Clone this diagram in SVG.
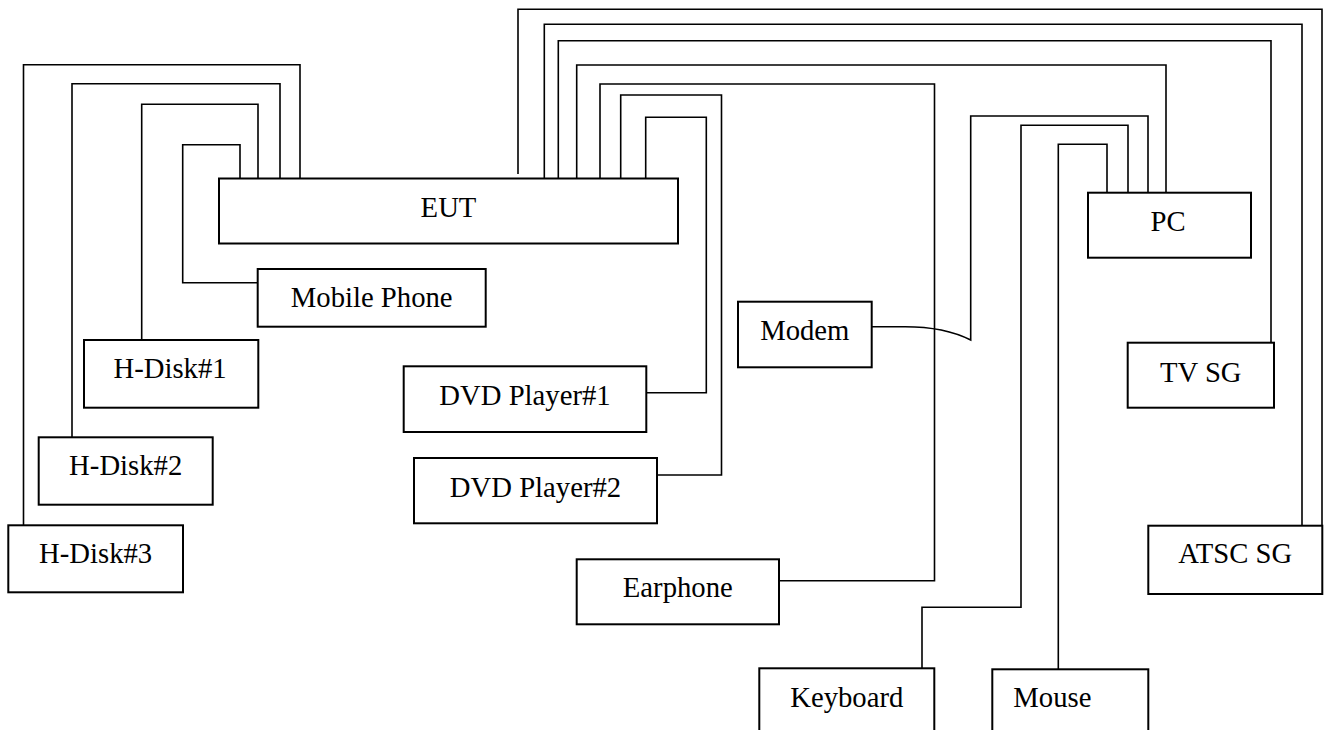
<svg xmlns="http://www.w3.org/2000/svg" width="1328" height="730" viewBox="0 0 1328 730">
<style>
.box{fill:#fff;stroke:#000;stroke-width:2}
.lbl{font-family:"Liberation Serif","Times New Roman",serif;font-size:28.7px;fill:#000;text-anchor:middle}
.w{fill:none;stroke:#000;stroke-width:1.6}
</style>
<rect width="1328" height="730" fill="#fff"/>
<g id="connectors">
<path class="w" d="M23.5,525.3 V64.7 H300 V178.5"/>
<path class="w" d="M72,437.3 V83.7 H280 V178.5"/>
<path class="w" d="M141.7,340 V104.3 H258 V178.5"/>
<path class="w" d="M257.7,282.7 H182.7 V144.7 H240 V178.5"/>
<path class="w" d="M518,174 V9.3 H1322 V525.7"/>
<path class="w" d="M544.3,178.5 V24.3 H1302 V525.7"/>
<path class="w" d="M558.3,178.5 V40.7 H1271 V342.7"/>
<path class="w" d="M576.7,178.5 V65 H1166 V192.7"/>
<path class="w" d="M600,178.5 V84 H934.5 V580.7 H779"/>
<path class="w" d="M620.7,178.5 V95 H721.5 V475 H657"/>
<path class="w" d="M645.7,178.5 V117.3 H706.3 V392.7 H646.3"/>
<path class="w" d="M871.7,326.7 H905 C935,326.7 955,332 970.7,340 V116 H1148 V192.7"/>
<path class="w" d="M922,668.3 V607.3 H1021 V125.3 H1128 V192.7"/>
<path class="w" d="M1058.3,669.3 V144.3 H1107 V192.7"/>
</g>
<g id="eut"><rect class="box" x="219" y="178.5" width="459" height="65"/><text class="lbl" x="448.5" y="216.7">EUT</text></g>
<g id="mobile"><rect class="box" x="257.7" y="269" width="228" height="57.7"/><text class="lbl" x="371.7" y="306.7">Mobile Phone</text></g>
<g id="hdisk1"><rect class="box" x="84" y="340" width="174.3" height="67.7"/><text class="lbl" x="170" y="378.3">H-Disk#1</text></g>
<g id="hdisk2"><rect class="box" x="38.7" y="437.3" width="174" height="67.4"/><text class="lbl" x="125.7" y="475">H-Disk#2</text></g>
<g id="hdisk3"><rect class="box" x="8.3" y="525.3" width="174.7" height="67"/><text class="lbl" x="95.6" y="562.7">H-Disk#3</text></g>
<g id="dvd1"><rect class="box" x="403.7" y="366.3" width="242.6" height="65.7"/><text class="lbl" x="525" y="405">DVD Player#1</text></g>
<g id="dvd2"><rect class="box" x="414" y="458" width="243" height="65.3"/><text class="lbl" x="535.5" y="496.7">DVD Player#2</text></g>
<g id="earphone"><rect class="box" x="576.7" y="559.3" width="202.3" height="65"/><text class="lbl" x="677.8" y="597.3">Earphone</text></g>
<g id="modem"><rect class="box" x="738" y="301.7" width="133.7" height="65.6"/><text class="lbl" x="804.8" y="340">Modem</text></g>
<g id="pc"><rect class="box" x="1088" y="192.7" width="163" height="65"/><text class="lbl" x="1168" y="230.7">PC</text></g>
<g id="tvsg"><rect class="box" x="1127.7" y="342.7" width="146.3" height="65"/><text class="lbl" x="1200.8" y="381.7">TV SG</text></g>
<g id="atscsg"><rect class="box" x="1148.3" y="525.7" width="174" height="68.3"/><text class="lbl" x="1235.3" y="563.3">ATSC SG</text></g>
<g id="keyboard"><rect class="box" x="759.3" y="668.3" width="175" height="80"/><text class="lbl" x="846.8" y="706.7">Keyboard</text></g>
<g id="mouse"><rect class="box" x="992.3" y="669.3" width="156" height="80"/><text class="lbl" x="1013.3" y="707.3" style="text-anchor:start">Mouse</text></g>
</svg>
